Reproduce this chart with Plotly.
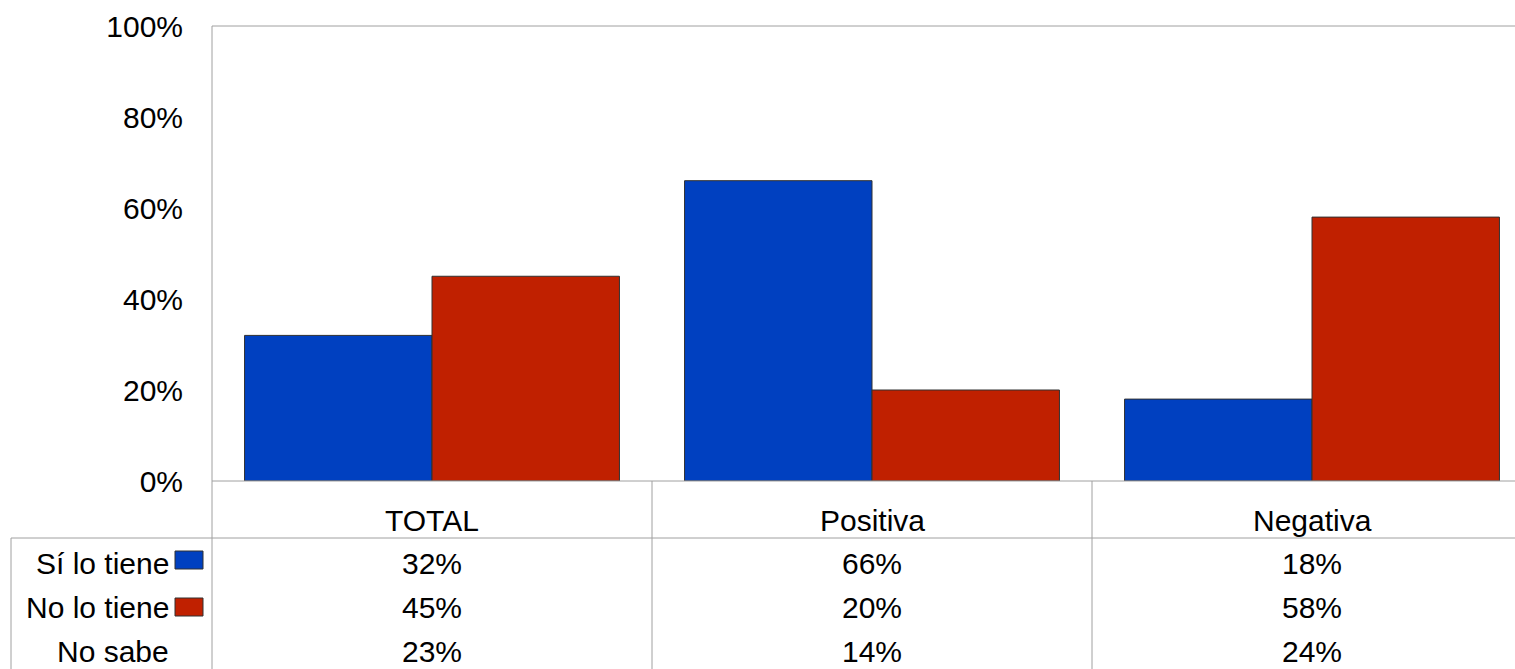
import plotly.graph_objects as go

categories = ["TOTAL", "Positiva", "Negativa"]
si_lo_tiene = [32, 66, 18]
no_lo_tiene = [45, 20, 58]
no_sabe = [23, 14, 24]
row_labels = ["Sí lo tiene", "No lo tiene", "No sabe"]
y_ticks = [0, 20, 40, 60, 80, 100]
y_tick_labels = ["0%", "20%", "40%", "60%", "80%", "100%"]

BLUE = "#0040C0"
RED = "#C02000"
LINE = "#A0A0A0"
FONT = "Liberation Sans, Arial, sans-serif"
FS = 30

W, H = 1515, 669
L, T, B = 212, 26, 188
PLOT_W = W - L
PLOT_H = H - T - B
CAT_PX = 440
x_max = -0.5 + PLOT_W / CAT_PX


def px(p):
    return (p - L) / PLOT_W


def py(p):
    return (H - B - p) / PLOT_H


fig = go.Figure()
fig.add_bar(x=categories, y=si_lo_tiene, name=row_labels[0], marker_color=BLUE,
            marker_line=dict(color="#303030", width=1))
fig.add_bar(x=categories, y=no_lo_tiene, name=row_labels[1], marker_color=RED,
            marker_line=dict(color="#303030", width=1))

shapes = []
shapes.append(dict(type="line", xref="paper", yref="paper", x0=0, x1=1, y0=1, y1=1,
                   line=dict(color=LINE, width=1)))
shapes.append(dict(type="line", xref="paper", yref="paper", x0=0, x1=0, y0=1, y1=py(H),
                   line=dict(color=LINE, width=1)))
shapes.append(dict(type="line", xref="paper", yref="paper", x0=0, x1=1, y0=0, y1=0,
                   line=dict(color=LINE, width=1)))
shapes.append(dict(type="line", xref="paper", yref="paper", x0=px(11), x1=1, y0=py(538), y1=py(538),
                   line=dict(color=LINE, width=1)))
shapes.append(dict(type="line", xref="paper", yref="paper", x0=px(11), x1=px(11), y0=py(538), y1=py(H),
                   line=dict(color=LINE, width=1)))
for i in range(1, len(categories)):
    shapes.append(dict(type="line", xref="x", yref="paper", x0=i - 0.5, x1=i - 0.5, y0=0, y1=py(H),
                       line=dict(color=LINE, width=1)))
key_rows = [(551, 569, BLUE), (598, 616, RED)]
for y0, y1, c in key_rows:
    shapes.append(dict(type="rect", xref="paper", yref="paper", x0=px(175), x1=px(203),
                       y0=py(y1), y1=py(y0), fillcolor=c, line=dict(color="#303030", width=1)))

annotations = []
for i, c in enumerate(categories):
    annotations.append(dict(x=i, y=py(520), xref="x", yref="paper", text=c, showarrow=False,
                            font=dict(size=FS, color="black", family=FONT), yanchor="middle"))
row_y = [563, 607, 651]
for r, (lab, vals) in enumerate(zip(row_labels, [si_lo_tiene, no_lo_tiene, no_sabe])):
    annotations.append(dict(x=px(171), y=py(row_y[r]), xref="paper", yref="paper", text=lab,
                            showarrow=False, xanchor="right", yanchor="middle",
                            font=dict(size=FS, color="black", family=FONT)))
    for i, v in enumerate(vals):
        annotations.append(dict(x=i, y=py(row_y[r]), xref="x", yref="paper", text=f"{v}%",
                                showarrow=False, yanchor="middle",
                                font=dict(size=FS, color="black", family=FONT)))

fig.update_layout(
    width=W, height=H,
    margin=dict(l=L, r=0, t=T, b=B, pad=0),
    paper_bgcolor="white", plot_bgcolor="white",
    barmode="group", bargap=0.148, bargroupgap=0,
    showlegend=False,
    font=dict(family=FONT, size=FS, color="black"),
    shapes=shapes, annotations=annotations,
    xaxis=dict(range=[-0.5, x_max], showticklabels=False, showgrid=False, zeroline=False,
               showline=False, ticks=""),
    yaxis=dict(range=[0, 100], tickvals=y_ticks, ticktext=y_tick_labels, showgrid=False,
               zeroline=False, showline=False, ticks="", ticklabelstandoff=28,
               tickfont=dict(size=FS, color="black", family=FONT)),
)

fig.write_html("out.html", config={"displayModeBar": False},
               post_script="document.body.style.margin='0';document.body.style.overflow='hidden';")
